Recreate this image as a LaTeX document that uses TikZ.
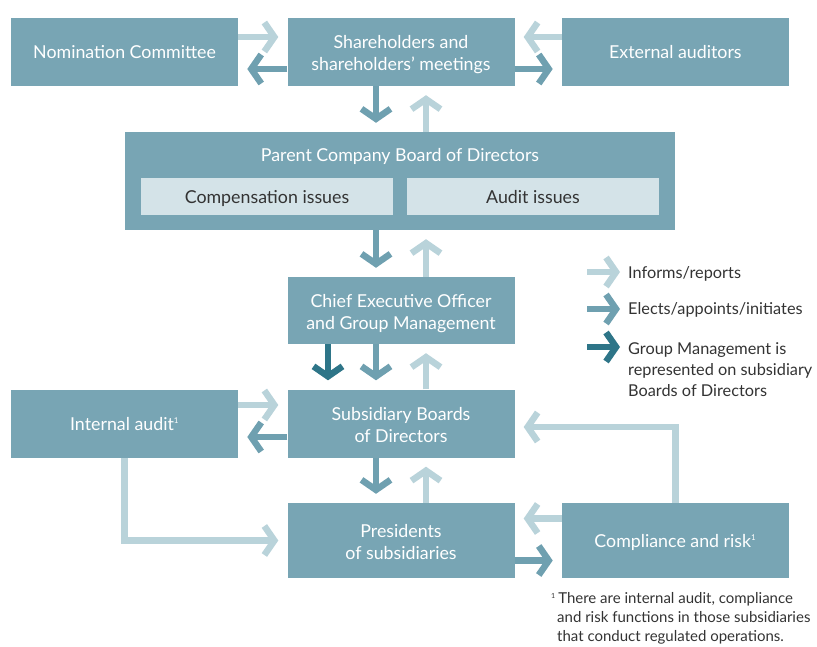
\documentclass[tikz,border=0pt]{standalone}
\usepackage{fontspec}
\setmainfont{Lato}
\usetikzlibrary{arrows.meta,positioning}
\definecolor{boxteal}{HTML}{78A5B4}
\definecolor{lightarrow}{HTML}{B9D3DA}
\definecolor{midarrow}{HTML}{6FA0B0}
\definecolor{darkarrow}{HTML}{2E7588}
\definecolor{innerbox}{HTML}{D4E3E8}
\definecolor{inktext}{HTML}{333333}

\begin{document}
\begin{tikzpicture}[x=1pt,y=-1pt,font=\fontsize{17.8}{22}\selectfont,
  box/.style={fill=boxteal,text=white,minimum width=227pt,minimum height=68pt,align=center,inner sep=0pt},
  oneline/.style={text height=15pt,text depth=2pt},
  twoline/.style={text height=37pt,text depth=0pt},
  subbox/.style={fill=innerbox,text=inktext,minimum width=252pt,minimum height=37pt,inner sep=0pt,oneline},
  flow/.style={line width=6.5pt,-{Straight Barb[length=10pt,width=29pt]},shorten >=9pt},
  informs/.style={flow,lightarrow},
  elects/.style={flow,midarrow},
  repr/.style={flow,darkarrow},
  legend/.style={anchor=west,inner sep=0pt,text=inktext,align=left,font=\fontsize{16.3}{21}\selectfont}]
\useasboundingbox (0,0) rectangle (817,646);
% top row
\node[box,twoline] (share) at (401,52) {Shareholders and\\shareholders' meetings};
\node[box,oneline,left=49pt of share] (nom) {Nomination Committee};
\node[box,oneline,right=47pt of share] (ext) {External auditors};
% parent board
\node[fill=boxteal,minimum width=550pt,minimum height=98pt,inner sep=0pt] (board) at (400,181) {};
\node[text=white,oneline] (boardtitle) at (400,155) {Parent Company Board of Directors};
\node[subbox] (comp) at (267,196.5) {Compensation issues};
\node[subbox] (audit) at (533,196.5) {Audit issues};
% management and subsidiaries
\node[box,twoline,minimum height=67pt] (ceo) at (401,310.5) {Chief Executive Officer\\and Group Management};
\node[box,twoline] (subs) at (401,423.5) {Subsidiary Boards\\of Directors};
\node[box,oneline,left=49pt of subs] (intaudit) {Internal audit\textsuperscript{\footnotesize 1}};
\node[box,twoline,minimum height=75pt] (pres) at (401,540.5) {Presidents\\of subsidiaries};
\node[box,oneline,minimum height=75pt,right=47pt of pres] (comprisk) {Compliance and risk\textsuperscript{\footnotesize 1}};

% horizontal flows
\draw[informs] ([yshift=15pt]nom.east) -- ([yshift=15pt]share.west);
\draw[elects] ([yshift=-17pt]share.west) -- ([yshift=-17pt]nom.east);
\draw[informs] ([yshift=15pt]ext.west) -- ([yshift=15pt]share.east);
\draw[elects] ([yshift=-17pt]share.east) -- ([yshift=-17pt]ext.west);
\draw[informs] ([yshift=18.5pt]intaudit.east) -- ([yshift=18.5pt]subs.west);
\draw[elects] ([yshift=-13.5pt]subs.west) -- ([yshift=-13.5pt]intaudit.east);
\draw[informs] ([yshift=22pt]comprisk.west) -- ([yshift=22pt]pres.east);
\draw[elects] ([yshift=-20pt]pres.east) -- ([yshift=-20pt]comprisk.west);

% vertical flows
\draw[elects] ([xshift=-25pt]share.south) -- ([xshift=-25pt]share.south |- board.north);
\draw[informs] ([xshift=25pt]share.south |- board.north) -- ([xshift=25pt]share.south);
\draw[elects] ([xshift=-25pt]ceo.north |- board.south) -- ([xshift=-25pt]ceo.north);
\draw[informs] ([xshift=25pt]ceo.north) -- ([xshift=25pt]ceo.north |- board.south);
\draw[repr] ([xshift=-73pt]ceo.south) -- ([xshift=-73pt]subs.north);
\draw[elects] ([xshift=-25pt]ceo.south) -- ([xshift=-25pt]subs.north);
\draw[informs] ([xshift=25pt]subs.north) -- ([xshift=25pt]ceo.south);
\draw[elects] ([xshift=-25pt]subs.south) -- ([xshift=-25pt]pres.north);
\draw[informs] ([xshift=25pt]pres.north) -- ([xshift=25pt]subs.south);

% elbow flows
\draw[informs] (intaudit.south) |- (pres.west);
\draw[informs] (comprisk.north) |- ([yshift=-3.5pt]subs.east);

% legend
\coordinate (lg1a) at (587,272);
\coordinate (lg1b) at (629,272);
\coordinate (lg2a) at (587,309);
\coordinate (lg2b) at (629,309);
\coordinate (lg3a) at (587,347);
\coordinate (lg3b) at (629,347);
\draw[informs] (lg1a) -- (lg1b);
\draw[elects] (lg2a) -- (lg2b);
\draw[repr] (lg3a) -- (lg3b);
\node[legend] (lgtext1) at (628,274) {Informs/reports};
\node[legend] (lgtext2) at (628,310) {Elects/appoints/initiates};
\node[legend,anchor=north west] (lgtext3) at (628,342) {Group Management is\\represented on subsidiary\\Boards of Directors};

% footnote
\node[legend,anchor=north west,font=\fontsize{15}{19}\selectfont] (fnote) at (551,592)
  {\textsuperscript{\scriptsize 1}\,There are internal audit, compliance\\\hspace*{6pt}and risk functions in those subsidiaries\\\hspace*{6pt}that conduct regulated operations.};
\end{tikzpicture}
\end{document}
